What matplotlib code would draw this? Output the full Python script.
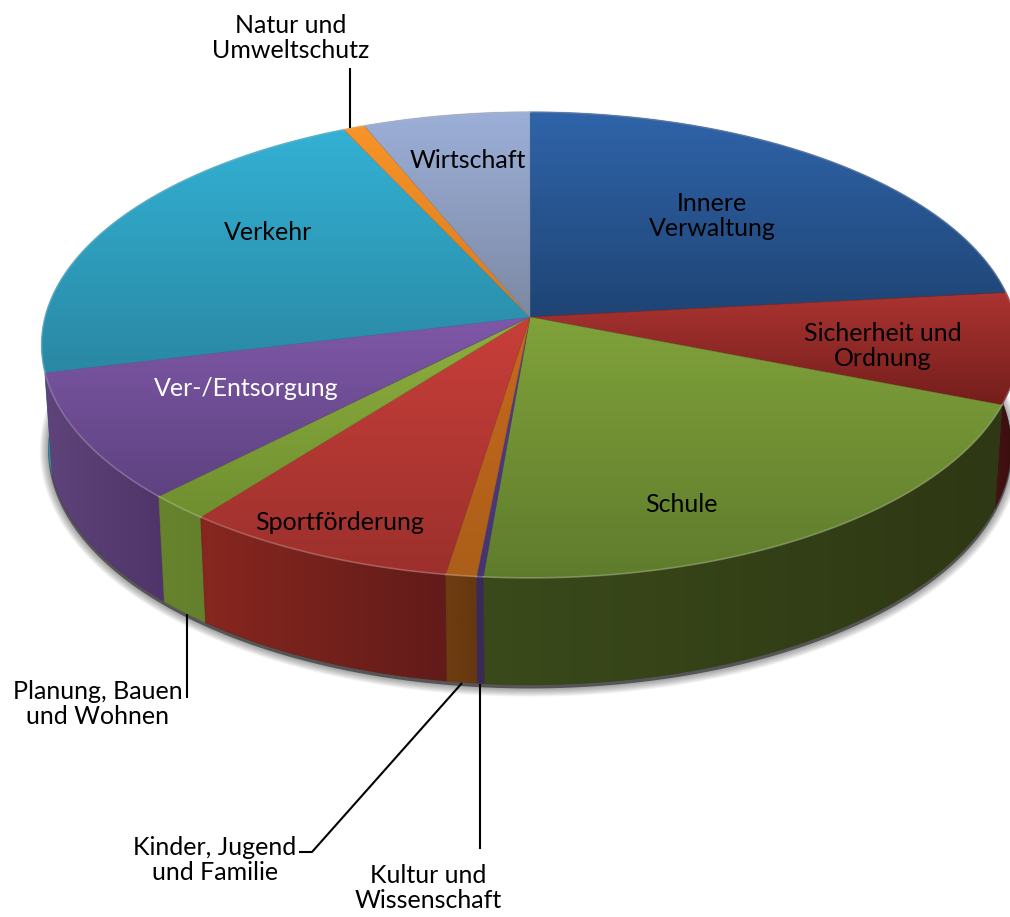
import numpy as np
import matplotlib
matplotlib.use('Agg')
import matplotlib.pyplot as plt
from matplotlib.colors import LinearSegmentedColormap, to_rgb
from matplotlib.patches import Polygon

# share of each slice in percent, clockwise from 12 o'clock
names = ['Innere Verwaltung', 'Sicherheit und Ordnung', 'Schule', 'Kultur und Wissenschaft',
         'Kinder, Jugend und Familie', 'Sportförderung', 'Planung, Bauen und Wohnen',
         'Ver-/Entsorgung', 'Verkehr', 'Natur und Umweltschutz', 'Wirtschaft']
shares = [23.3, 7.7, 20.4, 0.2, 0.9, 8.1, 1.8, 8.9, 21.8, 0.8, 6.2]

# top face colours (upper, lower), wall colours (left, right)
top_cols = [('#2f64aa', '#1f4474'), ('#ab3431', '#741e1c'), ('#80a23a', '#5f7c2d'),
            ('#55408a', '#453470'), ('#c8681e', '#ab5f18'), ('#c93f3a', '#9c302c'),
            ('#8fb03e', '#6f8f30'), ('#7f58a8', '#5e4280'), ('#33b1d4', '#2a88a4'),
            ('#f89428', '#d97a20'), ('#9cafd8', '#7c89a4')]
wall_cols = [('#1a3a60', '#1a3a60'), ('#451212', '#360d0d'), ('#3a4a1a', '#2e3814'),
             ('#3a2a58', '#3a2a58'), ('#6e3c10', '#663810'), ('#88271f', '#611b19'),
             ('#68832c', '#64802c'), ('#5e447a', '#4e3468'), ('#2a93b0', '#2a93b0'),
             ('#a86418', '#a86418'), ('#7c89a4', '#7c89a4')]

# projection of the tilted disc onto the picture, in pixels
CX, CY = 530, 317
RX, RY, TILT = 485, 229.6, 0.12
WALL_SX, WALL_SY, WALL_H = 0.985, 1.02, 101.6


def top_rim(theta):
    u, v = np.sin(theta), np.cos(theta)
    w = 1 + TILT * v
    return CX + RX * u / w, CY - RY * v / w


def bottom_rim(theta):
    x, y = top_rim(theta)
    return CX + WALL_SX * (x - CX), CY + WALL_SY * (y - CY) + WALL_H


def gradient(ax, cols, poly, horizontal=False):
    cmap = LinearSegmentedColormap.from_list('g', [to_rgb(cols[0]), to_rgb(cols[1])])
    x0, y0 = poly.min(axis=0)
    x1, y1 = poly.max(axis=0)
    g = np.linspace(0, 1, 256)
    g = g[None, :] if horizontal else g[:, None]
    im = ax.imshow(g, cmap=cmap, extent=(x0, x1, y1, y0), aspect='auto', zorder=ax.zo, interpolation='bilinear')
    patch = Polygon(poly, closed=True, transform=ax.transData, fc='none', ec='none')
    ax.add_patch(patch)
    im.set_clip_path(patch)
    # soften the hard clip edge
    ax.add_patch(Polygon(poly, closed=True, fc='none', ec=cols[1], lw=0.5, alpha=0.6, zorder=ax.zo))
    ax.zo += 0.01


fig = plt.figure(figsize=(10.10, 9.17), dpi=100)
ax = fig.add_axes([0, 0, 1, 1])
ax.zo = 3
plt.rcParams['font.family'] = ['Lato', 'DejaVu Sans']

edges = np.radians(np.concatenate([[0], np.cumsum(shares)]) / sum(shares) * 360)

# soft shadow below the disc
t = np.linspace(0, 2 * np.pi, 400)
sx, sy = bottom_rim(t)
for lw in np.linspace(1, 13, 12):
    ax.plot(sx, sy + 3, color='black', alpha=0.035, lw=lw, zorder=1, solid_joinstyle='round')
ax.fill(sx, sy + 3, color='#555555', zorder=1.5)

# walls, back to front
order = sorted(range(len(shares)), key=lambda i: -abs(np.pi - (edges[i] + edges[i + 1]) / 2))
for i in order:
    t = np.linspace(edges[i], edges[i + 1], 80)
    tx, ty = top_rim(t)
    bx, by = bottom_rim(t)
    poly = np.column_stack([np.r_[tx, bx[::-1]], np.r_[ty, by[::-1]]])
    gradient(ax, wall_cols[i], poly, horizontal=True)

# top faces
ax.zo = 5
for i in range(len(shares)):
    t = np.linspace(edges[i], edges[i + 1], 120)
    tx, ty = top_rim(t)
    poly = np.column_stack([np.r_[CX, tx], np.r_[CY, ty]])
    gradient(ax, top_cols[i], poly)
    rim = np.array(to_rgb(top_cols[i][1])) * 0.5 + 0.5
    ax.plot(tx, ty, color=rim, lw=1.2, alpha=0.45, zorder=6)

# labels
txt = dict(fontsize=18, ha='center', va='center', linespacing=1.15, zorder=8)
ax.text(712, 216, 'Innere\nVerwaltung', **txt)
ax.text(883, 346, 'Sicherheit und\nOrdnung', **txt)
ax.text(681, 504, 'Schule', **txt)
ax.text(340, 523, 'Sportförderung', **txt)
ax.text(246, 389, 'Ver-/Entsorgung', color='white', **txt)
ax.text(268, 232, 'Verkehr', **txt)
ax.text(468, 161, 'Wirtschaft', **txt)
ax.text(291, 38, 'Natur und\nUmweltschutz', **txt)
ax.text(98, 704, 'Planung, Bauen\nund Wohnen', **txt)
ax.text(215, 860, 'Kinder, Jugend\nund Familie', **txt)
ax.text(428, 888, 'Kultur und\nWissenschaft', **txt)

# leader lines
lead = dict(color='black', lw=1.5, zorder=7, solid_capstyle='butt')
ax.plot([350, 350], [68, 128], **lead)
ax.plot([187, 187], [614, 698], **lead)
ax.plot([299, 312, 462], [852, 852, 683], **lead)
ax.plot([480, 480], [684, 849], **lead)

ax.set_xlim(0, 1010)
ax.set_ylim(917, 0)
ax.axis('off')
fig.savefig('out.png', dpi=100)
